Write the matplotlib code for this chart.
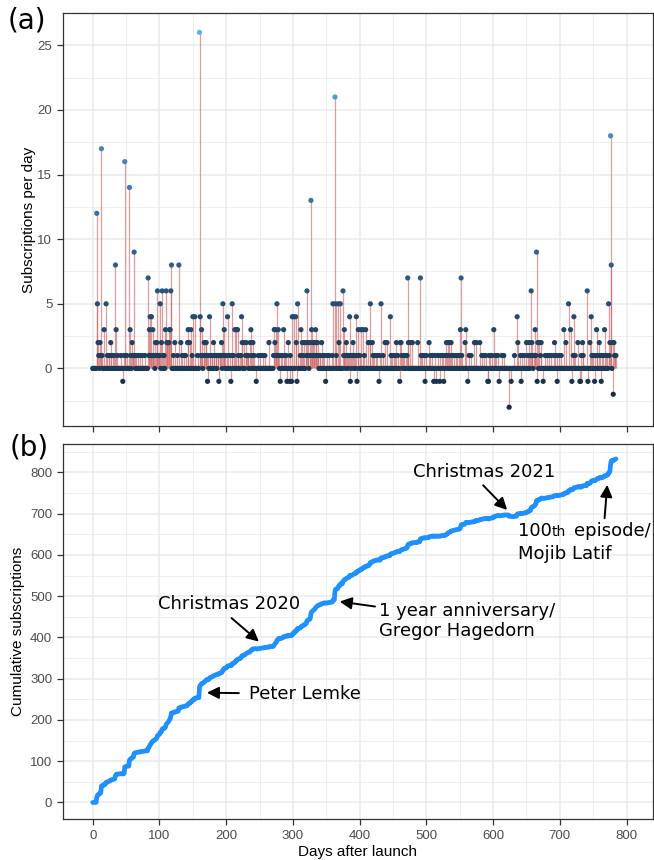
import numpy as np
import matplotlib.pyplot as plt
from matplotlib.colors import LinearSegmentedColormap, Normalize

# daily net subscriptions; one list per 100 days
subs_000 = [0, 0, 0, 0, 0, 0, 12, 5, 2, 1, 0, 2, 1, 17, 1, 0, 0, 3, 0, 0,
            5, 0, 1, 0, 1, 1, 0, 2, 1, 0, 1, 0, 1, 0, 8, 3, 0, 1, 0, 0,
            0, 0, 1, 0, 0, -1, 0, 1, 16, 1, 0, 1, 0, 0, 0, 14, 3, 1, 0, 2,
            1, 1, 9, 1, 0, 1, 0, 0, 1, 0, 0, 1, 0, 0, 1, 0, 0, 0, 1, 0,
            0, 0, 0, 7, 1, 3, 4, 1, 4, 1, 3, 1, 1, 0, 2, 1, 2, 6, 1, 1]
subs_100 = [1, 5, 0, 2, 6, 1, 0, 1, 0, 3, 6, 2, 2, 2, 2, 3, 3, 6, 8, 0,
            0, 1, 0, 2, 0, 0, 0, 1, 0, 8, 0, 0, 2, 0, 1, 0, 0, 1, 0, 1,
            0, 0, 2, 3, 0, 2, 0, 3, 0, 1, 4, 0, 0, 4, 0, 0, 0, 1, 0, 0,
            26, 4, 1, 3, 1, 0, 1, 2, 1, 2, 2, 1, -1, 1, 0, 4, 1, 0, 1, 1,
            0, 2, 1, 0, 1, 1, 0, 1, 1, -1, 1, 1, 1, 2, 0, 5, 1, 3, 1, 0]
subs_200 = [0, 1, 4, 0, 0, 1, 0, -1, 1, 5, 0, 1, 0, 3, 0, 3, 0, 3, 1, 0,
            0, 1, 1, 4, 2, 0, 0, 2, 0, 1, 2, 1, 1, 1, 0, 0, 2, 3, 1, 0,
            2, 0, 1, 0, 0, -1, 0, 0, 1, 0, 0, 1, 0, 0, 0, 1, 0, 0, 1, 0,
            0, 0, 0, 0, 2, 0, 0, 0, 0, 0, 0, 1, 3, 2, 3, 1, 5, 1, 3, 1,
            0, -1, 1, 0, 1, 0, 3, 0, 1, 0, 1, -1, 0, 2, 0, -1, 1, 0, -1, 4]
subs_300 = [0, 4, 0, 0, 4, 2, -1, 5, 0, 0, 0, 1, 3, 0, 2, 1, 0, 2, 0, 2,
            1, 6, 1, 2, 0, 1, 2, 13, 3, 1, 2, 1, 2, 1, 3, 2, 1, 2, 1, 0,
            1, 1, 0, 2, 0, 1, 0, 1, 0, -1, 0, 1, 0, 0, 1, 0, 0, 0, 0, 1,
            5, 0, 0, 21, 5, 1, 0, 0, 5, 2, 0, 5, 0, 0, 0, 6, 1, 3, 1, 0,
            2, 1, 1, 0, 1, 4, -1, 1, 0, 1, 2, 1, 0, 1, 0, 4, -1, 1, 3, 0]
subs_400 = [1, 0, 3, 0, 0, 3, 0, 1, 0, 3, 0, 0, 0, 2, 0, 2, 5, 0, 0, 2,
            1, 0, 1, 0, 1, 0, 1, 0, 0, -1, 1, 0, 5, 0, 0, 1, 0, 0, 2, 0,
            0, 2, 0, 0, 0, 0, 4, 1, 0, 1, 0, 1, 0, 1, 0, 2, 0, 1, 0, 0,
            -1, 2, 2, 1, 0, 1, 0, 1, 0, 1, 0, 1, 7, 2, 0, 0, 2, 0, 0, 2,
            0, 0, 0, 0, 0, 0, 0, 2, 0, 0, 0, 7, 1, 0, 1, 0, 0, 1, -1, 0]
subs_500 = [1, 0, 0, 0, 2, 0, 1, 0, 0, 1, 0, -1, 0, 1, 0, -1, 0, 1, 0, 0,
            -1, 1, 0, 1, 0, 1, -1, 0, 1, 0, 2, 1, 2, 0, 2, 1, 0, 2, 0, 1,
            0, 1, 0, 0, 1, 0, 1, 0, 0, 1, 0, 3, 7, 1, 0, 0, 0, 0, 2, 3,
            0, 0, -1, 0, 1, 0, 0, 1, 0, 0, 0, 0, 2, 0, 0, 2, 0, 0, 0, 0,
            2, 0, 0, 1, 0, 0, 1, 0, 0, 1, 0, 0, -1, -1, 1, 0, 1, 0, 1, 0]
subs_600 = [0, 3, 0, 1, 0, 1, 0, 1, 0, -1, 0, 0, 0, 1, 0, 0, 1, 0, 0, 0,
            0, 0, 0, 0, -3, 0, 0, -1, 0, 0, 0, 0, 1, 0, 0, 0, 4, 2, 0, 0,
            0, 1, -1, 0, 1, 0, 0, 1, 0, 0, 2, 0, 1, 0, 2, 0, 1, 6, 2, 1,
            0, 1, 1, 3, 1, 9, -1, 2, 0, 2, 0, 1, 2, 0, 0, -1, 0, 0, 1, 0,
            0, 1, 0, 0, 1, 0, 0, 1, 0, 0, 0, 1, 2, 0, 0, 1, -1, 0, 0, 1]
subs_700 = [0, 0, 1, 0, 0, 0, 3, 0, 0, 2, 0, 0, 0, 5, 0, 0, 3, 0, -1, 0,
            1, 4, 0, 1, 0, 0, 0, 2, 0, 0, -1, -1, 1, 0, 2, 1, 0, 0, 0, 0,
            0, 6, -1, 0, 0, 2, 0, 4, 1, 0, 1, 0, -1, 1, 0, 3, 1, 0, 0, 2,
            1, 0, -1, 1, 0, 1, 0, 3, 0, 1, 0, 1, 0, 5, 1, 2, 18, 8, 0, 2,
            -2, 2, 1, 1, 1]

# annotations in panel (b): label, text position, arrow tail, arrow head
notes = [
    ("Peter Lemke", (234, 262), (219, 265), (171, 266)),
    ("Christmas 2020", (204, 481), (208, 447), (249, 390)),
    ("1 year anniversary/\nGregor Hagedorn", (429, 439), (423, 475), (370, 487)),
    ("Christmas 2021", (586, 800), (585, 769), (621, 709)),
]
latif_tail, latif_head = (767, 689), (771, 770)

daily = np.array(subs_000 + subs_100 + subs_200 + subs_300 +
                 subs_400 + subs_500 + subs_600 + subs_700)
days = np.arange(len(daily))
cum = np.cumsum(daily)

tick_font = "Liberation Sans"
note_font = "DejaVu Sans"
grey30 = "#4D4D4D"

fig = plt.figure(figsize=(6.54, 8.6), dpi=100)
ax1 = fig.add_axes([0.0959, 0.5047, 0.9030, 0.4802])
ax2 = fig.add_axes([0.0959, 0.0473, 0.9030, 0.4364])


def style(ax):
    ax.set_axisbelow(True)
    ax.grid(which="major", color="#EBEBEB", lw=1.1)
    ax.grid(which="minor", color="#EBEBEB", lw=0.55)
    for s in ax.spines.values():
        s.set_color("#333333")
        s.set_linewidth(0.9)
    ax.tick_params(which="major", length=4, width=0.9, color="#333333",
                   labelsize=9.5, labelcolor=grey30)
    ax.tick_params(which="minor", length=0)
    for lab in ax.get_xticklabels() + ax.get_yticklabels():
        lab.set_fontfamily(tick_font)


# (a) daily lollipops
cmap = LinearSegmentedColormap.from_list("gg", ["#132B43", "#56B1F7"])
ax1.vlines(days, 0, daily, color="#cd5c5c", lw=0.9, alpha=0.6, zorder=2)
ax1.scatter(days, daily, c=daily, cmap=cmap,
            norm=Normalize(daily.min(), daily.max()), s=14, zorder=3,
            linewidths=0)
ax1.set_xlim(-45, 840)
ax1.set_ylim(-4.45, 27.45)
ax1.set_xticks(np.arange(0, 801, 100))
ax1.set_xticks(np.arange(50, 801, 100), minor=True)
ax1.set_xticklabels([])
ax1.set_yticks(np.arange(0, 26, 5))
ax1.set_yticks(np.arange(-2.5, 28, 5), minor=True)
style(ax1)

# (b) cumulative
ax2.plot(days, cum, color="#1E90FF", lw=3.4, solid_capstyle="round",
         solid_joinstyle="round", zorder=3)
ax2.set_xlim(-45, 840)
ax2.set_ylim(-41, 869)
ax2.set_xticks(np.arange(0, 801, 100))
ax2.set_xticks(np.arange(50, 801, 100), minor=True)
ax2.set_yticks(np.arange(0, 801, 100))
ax2.set_yticks(np.arange(50, 851, 100), minor=True)
style(ax2)

arrow = dict(arrowstyle="-|>", color="black", lw=1.4, mutation_scale=18,
             shrinkA=0, shrinkB=0)
for label, pos, tail, head in notes:
    ax2.annotate("", xy=head, xytext=tail, arrowprops=arrow, zorder=4)
    ha = "center" if "Christmas" in label else "left"
    ax2.text(pos[0], pos[1], label, ha=ha, va="center", fontsize=13,
             family=note_font, linespacing=1.15)
ax2.annotate("", xy=latif_head, xytext=latif_tail, arrowprops=arrow, zorder=4)
ax2.text(637, 645, "100", fontsize=13, family=note_font, va="baseline")
ax2.text(687, 645, "th", fontsize=10, family=note_font, va="baseline")
ax2.text(721, 645, "episode/", fontsize=13, family=note_font, va="baseline")
ax2.text(637, 591, "Mojib Latif", fontsize=13, family=note_font,
         va="baseline")

fig.text(0.045, 0.7448, "Subscriptions per day", rotation=90, ha="center",
         va="center", fontsize=11, family=tick_font)
fig.text(0.028, 0.2657, "Cumulative subscriptions", rotation=90, ha="center",
         va="center", fontsize=11, family=tick_font)
fig.text(0.5474, 0.0095, "Days after launch", ha="center", va="center",
         fontsize=11, family=tick_font)
fig.text(0.041, 0.9756, "(a)", ha="center", va="center", fontsize=20,
         family=note_font)
fig.text(0.044, 0.480, "(b)", ha="center", va="center", fontsize=20,
         family=note_font)

fig.savefig("out.png", dpi=100)
